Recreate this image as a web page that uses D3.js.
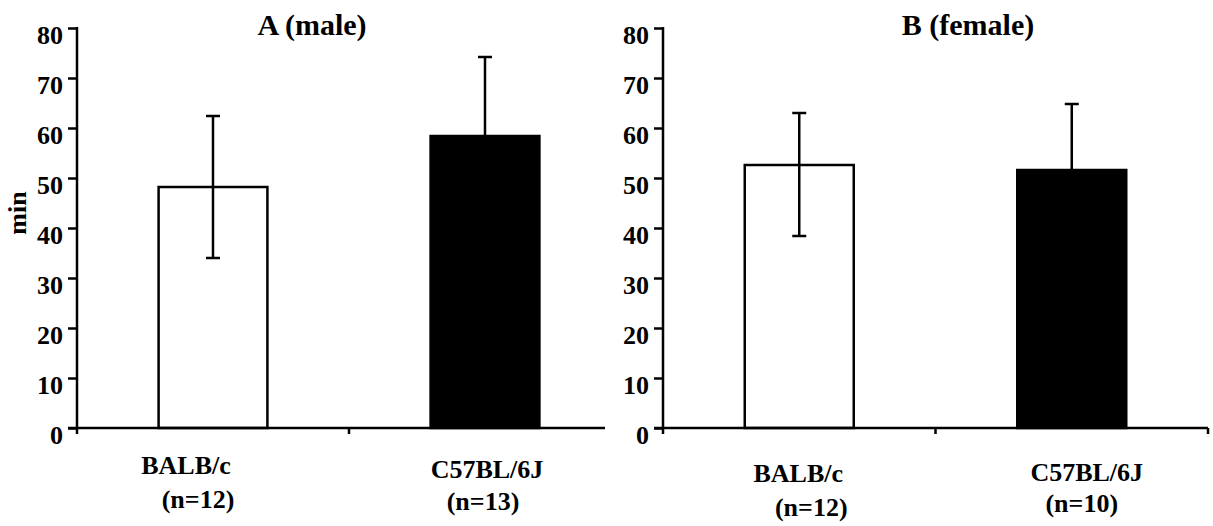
<!DOCTYPE html>
<html>
<head>
<meta charset="utf-8">
<script src="https://cdn.jsdelivr.net/npm/d3@7"></script>
<style>
  body { margin: 0; background: #fff; }
  text { font-family: "Liberation Serif", "Times New Roman", serif; font-weight: bold; fill: #000; }
</style>
</head>
<body>
<div id="chart"></div>
<script>
// data (min)
var strains = ['BALB/c', 'C57BL/6J'];
var maleMean = [48.2, 58.4];
var maleHigh = [62.4, 74.2];
var maleLow = [34.0, 42.6];
var maleN = [12, 13];
var femaleMean = [52.6, 51.6];
var femaleHigh = [63.0, 64.8];
var femaleLow = [38.4, 38.4];
var femaleN = [12, 10];
var yTicks = [0, 10, 20, 30, 40, 50, 60, 70, 80];
var barFill = ['#fff', '#000'];

var width = 1213, height = 526;

var svg = d3.select('#chart')
    .append('svg')
    .attr('width', width)
    .attr('height', height);

var y = d3.scaleLinear()
    .domain([0, 80])
    .range([428, 28]);

// panel layout (label offsets differ a bit per panel in the original)
var panels = [
  { title: 'A (male)', titleX: 312, x0: 77, x1: 621, axisEnd: 605, endTick: false,
    mean: maleMean, high: maleHigh, low: maleLow, n: maleN,
    nameDx: [-27, 2], nameY: [474, 478], nDx: [-15, -2], nY: [508, 510] },
  { title: 'B (female)', titleX: 968, x0: 663, x1: 1208, axisEnd: 1208, endTick: true,
    mean: femaleMean, high: femaleHigh, low: femaleLow, n: femaleN,
    nameDx: [-1, 15], nameY: [482, 481], nDx: [12, 10], nY: [516, 512] }
];

panels.forEach(function(p) {
    var g = svg.append('g');

    var x = d3.scaleBand()
        .domain(strains)
        .range([p.x0, p.x1])
        .paddingInner(0.6)
        .paddingOuter(0.3);

    var rows = strains.map(function(s, i) {
        return { name: s, mean: p.mean[i], high: p.high[i], low: p.low[i], n: p.n[i], i: i };
    });

    // bars
    g.selectAll('rect')
        .data(rows)
        .enter()
        .append('rect')
        .attr('x', d => x(d.name))
        .attr('y', d => y(d.mean))
        .attr('width', x.bandwidth())
        .attr('height', d => y(0) - y(d.mean))
        .style('fill', d => barFill[d.i])
        .style('stroke', '#000')
        .style('stroke-width', 2.5);

    // error bars
    var cx = d => x(d.name) + x.bandwidth() / 2;
    g.selectAll('line.stem')
        .data(rows)
        .enter()
        .append('line')
        .attr('class', 'stem')
        .attr('x1', cx).attr('x2', cx)
        .attr('y1', d => y(d.low)).attr('y2', d => y(d.high))
        .style('stroke', '#000')
        .style('stroke-width', 2.5);

    ['high', 'low'].forEach(function(k) {
        g.selectAll('line.cap-' + k)
            .data(rows)
            .enter()
            .append('line')
            .attr('class', 'cap-' + k)
            .attr('x1', d => cx(d) - 7).attr('x2', d => cx(d) + 7)
            .attr('y1', d => y(d[k])).attr('y2', d => y(d[k]))
            .style('stroke', '#000')
            .style('stroke-width', 2.5);
    });

    // y axis
    var ya = g.append('g')
        .attr('transform', 'translate(' + p.x0 + ',0)')
        .call(d3.axisLeft(y).tickValues(yTicks).tickSize(9).tickPadding(5).tickFormat(d3.format('d')));
    ya.select('.domain').remove();
    ya.selectAll('.tick line').style('stroke', '#000').style('stroke-width', 2.5);
    ya.append('line')
        .attr('x1', 0).attr('x2', 0)
        .attr('y1', y(80) - 1).attr('y2', y(0))
        .style('stroke', '#000').style('stroke-width', 2.5);
    ya.selectAll('.tick text')
        .attr('dy', 15)
        .style('font-size', '26px')
        .style('font-family', '"Liberation Serif", serif')
        .style('font-weight', 'bold')
        .style('fill', '#000');

    // x axis
    g.append('line')
        .attr('x1', p.x0 - 9).attr('x2', p.axisEnd)
        .attr('y1', y(0)).attr('y2', y(0))
        .style('stroke', '#000').style('stroke-width', 2.5);
    var bounds = [0, 1];
    if (p.endTick) bounds.push(2);
    g.selectAll('line.xtick')
        .data(bounds)
        .enter()
        .append('line')
        .attr('class', 'xtick')
        .attr('x1', d => Math.min(p.x0 + d * x.step(), p.axisEnd))
        .attr('x2', d => Math.min(p.x0 + d * x.step(), p.axisEnd))
        .attr('y1', y(0)).attr('y2', y(0) + 6)
        .style('stroke', '#000').style('stroke-width', 2.5);

    // category labels
    g.selectAll('text.name')
        .data(rows)
        .enter()
        .append('text')
        .attr('class', 'name')
        .attr('x', d => cx(d) + p.nameDx[d.i])
        .attr('y', d => p.nameY[d.i])
        .attr('text-anchor', 'middle')
        .style('font-size', '26px')
        .text(d => d.name);

    g.selectAll('text.n')
        .data(rows)
        .enter()
        .append('text')
        .attr('class', 'n')
        .attr('x', d => cx(d) + p.nDx[d.i])
        .attr('y', d => p.nY[d.i])
        .attr('text-anchor', 'middle')
        .style('font-size', '26px')
        .text(d => '(n=' + d.n + ')');

    // title
    g.append('text')
        .attr('x', p.titleX)
        .attr('y', 35)
        .attr('text-anchor', 'middle')
        .style('font-size', '30px')
        .text(p.title);
});

// y label
svg.append('text')
    .attr('transform', 'translate(26,213) rotate(-90)')
    .attr('text-anchor', 'middle')
    .style('font-size', '26px')
    .text('min');
</script>
</body>
</html>
